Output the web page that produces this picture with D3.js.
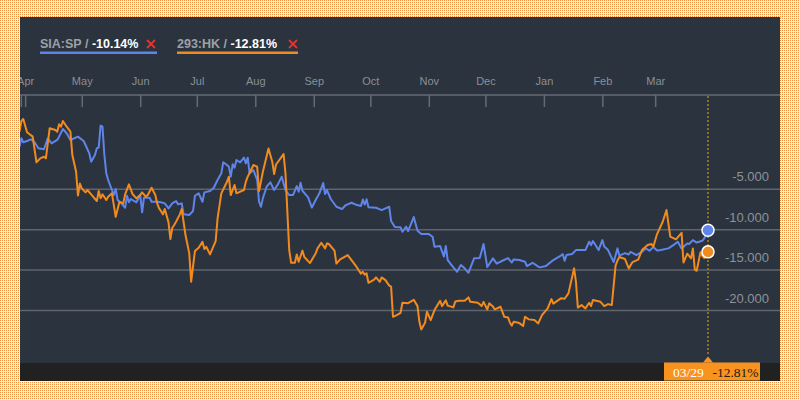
<!DOCTYPE html>
<html><head><meta charset="utf-8">
<script src="https://cdn.jsdelivr.net/npm/d3@7"></script>
<style>html,body{margin:0;padding:0;background:#fff;} svg{display:block}</style>
</head><body><svg id="c" width="800" height="400"></svg>
<script>
const siaDates=["2018-03-29","2018-03-30","2018-03-31","2018-04-02","2018-04-04","2018-04-06","2018-04-08","2018-04-11","2018-04-13","2018-04-15","2018-04-18","2018-04-19","2018-04-21","2018-04-23","2018-04-25","2018-04-29","2018-05-02","2018-05-03","2018-05-05","2018-05-06","2018-05-08","2018-05-09","2018-05-10","2018-05-11","2018-05-12","2018-05-13","2018-05-14","2018-05-15","2018-05-17","2018-05-18","2018-05-19","2018-05-20","2018-05-21","2018-05-22","2018-05-24","2018-05-25","2018-05-26","2018-05-27","2018-05-30","2018-06-01","2018-06-02","2018-06-03","2018-06-06","2018-06-07","2018-06-10","2018-06-12","2018-06-14","2018-06-16","2018-06-18","2018-06-20","2018-06-21","2018-06-23","2018-06-24","2018-06-27","2018-06-29","2018-06-30","2018-07-02","2018-07-04","2018-07-05","2018-07-08","2018-07-10","2018-07-12","2018-07-14","2018-07-15","2018-07-17","2018-07-18","2018-07-19","2018-07-20","2018-07-21","2018-07-22","2018-07-24","2018-07-26","2018-07-27","2018-07-28","2018-07-29","2018-07-31","2018-08-02","2018-08-03","2018-08-04","2018-08-05","2018-08-07","2018-08-09","2018-08-11","2018-08-13","2018-08-15","2018-08-17","2018-08-19","2018-08-21","2018-08-23","2018-08-24","2018-08-25","2018-08-26","2018-08-29","2018-08-31","2018-09-02","2018-09-04","2018-09-06","2018-09-07","2018-09-08","2018-09-10","2018-09-13","2018-09-16","2018-09-18","2018-09-21","2018-09-24","2018-09-26","2018-09-27","2018-09-28","2018-09-29","2018-09-30","2018-10-04","2018-10-07","2018-10-09","2018-10-11","2018-10-12","2018-10-14","2018-10-17","2018-10-18","2018-10-20","2018-10-21","2018-10-24","2018-10-26","2018-10-28","2018-11-01","2018-11-03","2018-11-04","2018-11-07","2018-11-09","2018-11-10","2018-11-11","2018-11-14","2018-11-16","2018-11-18","2018-11-20","2018-11-22","2018-11-25","2018-11-28","2018-11-30","2018-12-02","2018-12-05","2018-12-07","2018-12-10","2018-12-13","2018-12-15","2018-12-16","2018-12-19","2018-12-22","2018-12-23","2018-12-26","2018-12-29","2018-12-30","2019-01-02","2019-01-06","2019-01-10","2019-01-11","2019-01-12","2019-01-13","2019-01-16","2019-01-18","2019-01-23","2019-01-25","2019-01-26","2019-01-27","2019-01-30","2019-02-01","2019-02-02","2019-02-04","2019-02-07","2019-02-09","2019-02-10","2019-02-13","2019-02-15","2019-02-16","2019-02-19","2019-02-22","2019-02-24","2019-02-26","2019-02-28","2019-03-02","2019-03-04","2019-03-08","2019-03-11","2019-03-13","2019-03-15","2019-03-18","2019-03-19","2019-03-21","2019-03-23","2019-03-26","2019-03-27","2019-03-29"];
const siaValues=[0.20,1.24,0.74,0.90,1.11,0.74,0.00,-0.12,1.24,0.62,1.03,1.44,2.39,1.86,1.03,1.44,0.90,0.41,-0.62,-1.66,-0.83,0.00,0.12,2.80,2.67,-0.83,-3.09,-3.92,-5.16,-5.78,-5.04,-6.40,-6.61,-6.81,-7.35,-5.87,-6.68,-6.27,-6.68,-5.78,-7.92,-6.11,-6.11,-6.61,-6.61,-6.68,-6.81,-7.43,-6.81,-6.52,-6.93,-6.81,-8.17,-8.25,-7.76,-5.87,-5.57,-6.61,-5.45,-5.28,-4.88,-3.92,-3.09,-1.73,-2.07,-2.28,-3.51,-1.98,-2.40,-1.45,-1.73,-1.16,-1.86,-1.16,-3.09,-2.69,-3.92,-6.61,-7.23,-6.19,-4.75,-4.21,-5.16,-4.46,-3.51,-5.16,-5.78,-5.78,-4.67,-5.37,-4.26,-5.25,-6.06,-7.33,-6.40,-5.57,-4.29,-5.66,-5.16,-6.27,-7.23,-7.51,-7.02,-6.73,-7.02,-7.14,-6.34,-6.96,-6.31,-7.30,-7.35,-7.64,-7.43,-7.23,-9.00,-9.74,-9.78,-10.32,-9.68,-10.24,-8.50,-10.20,-10.61,-10.61,-10.94,-12.18,-12.09,-13.39,-12.09,-13.82,-14.73,-15.27,-14.44,-14.85,-15.40,-13.61,-13.58,-11.84,-14.69,-13.61,-14.26,-13.91,-13.58,-14.13,-13.74,-13.82,-14.03,-14.57,-14.16,-14.63,-14.73,-14.57,-13.82,-13.27,-13.08,-13.91,-13.21,-13.08,-12.59,-12.59,-11.56,-11.97,-11.47,-12.59,-11.35,-12.15,-12.59,-14.07,-12.38,-13.27,-12.96,-13.14,-12.80,-13.21,-12.80,-12.38,-12.67,-12.22,-12.65,-12.59,-12.38,-11.91,-11.56,-12.38,-11.78,-11.84,-11.35,-11.66,-11.44,-11.14,-10.14];
const hkDates=["2018-03-29","2018-03-30","2018-03-31","2018-04-02","2018-04-05","2018-04-07","2018-04-09","2018-04-11","2018-04-12","2018-04-14","2018-04-17","2018-04-18","2018-04-19","2018-04-20","2018-04-21","2018-04-23","2018-04-25","2018-04-26","2018-04-28","2018-04-29","2018-04-30","2018-05-01","2018-05-03","2018-05-04","2018-05-06","2018-05-09","2018-05-10","2018-05-11","2018-05-12","2018-05-14","2018-05-15","2018-05-17","2018-05-18","2018-05-19","2018-05-21","2018-05-23","2018-05-24","2018-05-26","2018-05-28","2018-05-30","2018-06-01","2018-06-02","2018-06-04","2018-06-05","2018-06-07","2018-06-09","2018-06-10","2018-06-11","2018-06-12","2018-06-13","2018-06-14","2018-06-16","2018-06-17","2018-06-18","2018-06-19","2018-06-20","2018-06-22","2018-06-23","2018-06-25","2018-06-27","2018-06-28","2018-06-30","2018-07-02","2018-07-04","2018-07-05","2018-07-06","2018-07-08","2018-07-11","2018-07-12","2018-07-14","2018-07-17","2018-07-18","2018-07-19","2018-07-21","2018-07-22","2018-07-26","2018-07-27","2018-07-28","2018-07-30","2018-07-31","2018-08-02","2018-08-03","2018-08-05","2018-08-08","2018-08-10","2018-08-11","2018-08-12","2018-08-16","2018-08-17","2018-08-19","2018-08-20","2018-08-22","2018-08-23","2018-08-24","2018-08-26","2018-08-27","2018-08-30","2018-09-02","2018-09-03","2018-09-05","2018-09-07","2018-09-08","2018-09-09","2018-09-12","2018-09-13","2018-09-15","2018-09-19","2018-09-23","2018-09-26","2018-09-27","2018-09-28","2018-09-29","2018-09-30","2018-10-03","2018-10-04","2018-10-06","2018-10-07","2018-10-09","2018-10-11","2018-10-12","2018-10-13","2018-10-15","2018-10-17","2018-10-18","2018-10-21","2018-10-24","2018-10-26","2018-10-27","2018-10-28","2018-10-30","2018-10-31","2018-11-02","2018-11-04","2018-11-07","2018-11-08","2018-11-10","2018-11-11","2018-11-14","2018-11-15","2018-11-17","2018-11-20","2018-11-22","2018-11-23","2018-11-27","2018-11-29","2018-11-30","2018-12-02","2018-12-03","2018-12-05","2018-12-06","2018-12-09","2018-12-11","2018-12-13","2018-12-14","2018-12-15","2018-12-16","2018-12-19","2018-12-21","2018-12-22","2018-12-24","2018-12-27","2018-12-29","2018-12-31","2019-01-03","2019-01-05","2019-01-06","2019-01-10","2019-01-12","2019-01-14","2019-01-17","2019-01-18","2019-01-19","2019-01-21","2019-01-23","2019-01-25","2019-01-26","2019-01-27","2019-01-31","2019-02-02","2019-02-04","2019-02-06","2019-02-08","2019-02-09","2019-02-10","2019-02-13","2019-02-15","2019-02-17","2019-02-20","2019-02-22","2019-02-25","2019-02-27","2019-02-28","2019-03-02","2019-03-05","2019-03-07","2019-03-09","2019-03-12","2019-03-15","2019-03-16","2019-03-18","2019-03-20","2019-03-21","2019-03-22","2019-03-23","2019-03-25","2019-03-26","2019-03-27","2019-03-29"];
const hkValues=[2.05,3.38,3.63,1.98,1.44,-1.73,-1.24,-1.04,-1.24,2.48,2.26,2.05,2.97,2.67,3.38,2.67,2.05,-0.83,-2.90,-5.84,-4.36,-4.95,-5.45,-5.16,-5.69,-6.52,-5.28,-6.19,-5.69,-6.40,-5.99,-5.57,-7.02,-8.47,-6.61,-6.81,-5.69,-4.46,-5.69,-6.19,-5.78,-5.45,-5.99,-5.78,-4.88,-5.78,-6.81,-7.43,-7.76,-8.17,-7.51,-9.16,-11.23,-9.83,-9.49,-9.08,-8.17,-7.51,-10.73,-13.00,-16.51,-12.71,-12.30,-11.56,-12.46,-12.18,-13.12,-11.47,-8.66,-5.57,-4.13,-3.51,-5.78,-4.54,-5.57,-5.16,-4.13,-3.51,-2.56,-2.07,-2.28,-5.28,-2.93,-0.02,-1.66,-3.18,-2.00,-0.71,-3.09,-12.59,-14.16,-14.16,-13.14,-14.03,-12.65,-13.45,-14.20,-13.00,-12.38,-11.68,-12.38,-11.76,-11.84,-12.65,-14.26,-13.74,-13.21,-14.44,-15.50,-15.27,-15.62,-15.47,-16.63,-16.24,-15.97,-16.51,-15.97,-16.30,-16.98,-17.10,-20.84,-20.63,-20.35,-19.11,-19.15,-18.74,-19.52,-21.46,-22.40,-21.58,-20.22,-21.25,-20.01,-18.86,-19.52,-18.81,-19.46,-19.68,-18.96,-18.86,-18.86,-18.44,-18.99,-19.11,-19.52,-18.99,-19.93,-19.18,-19.58,-19.93,-19.60,-20.84,-20.92,-21.58,-21.93,-21.46,-21.62,-21.99,-20.84,-21.16,-21.25,-21.66,-20.63,-19.80,-18.65,-19.21,-18.56,-18.61,-17.95,-14.85,-16.51,-19.70,-19.39,-19.80,-19.11,-19.52,-18.77,-18.99,-19.52,-19.27,-19.39,-14.50,-13.89,-13.45,-13.70,-14.85,-14.07,-13.76,-12.59,-11.97,-11.84,-12.18,-10.61,-9.08,-7.64,-10.92,-11.26,-10.45,-14.13,-13.04,-13.61,-12.38,-15.00,-15.15,-12.87,-13.33,-13.58,-12.81];
const seriesNames=["SIA:SP","293:HK"];
const seriesChanges=["-10.14%","-12.81%"];
const yTickValues=[-5,-10,-15,-20];
const badgeDate="03/29";

const colors=["#5f84ea","#f28b1f"];
const parse=d3.timeParse("%Y-%m-%d");
const sia=siaDates.map((d,i)=>({date:parse(d),value:siaValues[i]}));
const hk=hkDates.map((d,i)=>({date:parse(d),value:hkValues[i]}));
const series=[sia,hk];

const svg=d3.select("#c");
const defs=svg.append("defs");
const pat=defs.append("pattern").attr("id","dots").attr("width",2).attr("height",2).attr("patternUnits","userSpaceOnUse");
pat.append("rect").attr("width",2).attr("height",2).attr("fill","#fdf6ef");
pat.append("rect").attr("width",1).attr("height",1).attr("fill","#e98a3c");
svg.append("rect").attr("width",800).attr("height",400).attr("fill","url(#dots)");
defs.append("clipPath").attr("id","panel").append("rect").attr("x",20).attr("y",17).attr("width",760).attr("height",364);

svg.append("rect").attr("x",20).attr("y",17).attr("width",760).attr("height",364).attr("fill","#2b333e");
svg.append("rect").attr("x",20).attr("y",363).attr("width",760).attr("height",18).attr("fill","#212121");

const x=d3.scaleTime().domain([parse("2018-03-29"),parse("2019-03-29")]).range([19.5,708]);
const y=d3.scaleLinear().domain([-20,0]).range([310,148.3]);

const clip=svg.append("g").attr("clip-path","url(#panel)");

// legend
const legX=[40,177], legW=[117,121], crossX=[151,293];
seriesNames.forEach((n,i)=>{
  const t=clip.append("text").attr("x",legX[i]).attr("y",48)
    .style("font-family","'Liberation Sans',Arial,sans-serif").style("font-weight","bold").style("font-size","12.5px");
  t.append("tspan").attr("fill","#9ca1a7").text(n+" / ");
  t.append("tspan").attr("fill","#ffffff").text(seriesChanges[i]);
  clip.append("rect").attr("x",legX[i]).attr("y",51.5).attr("width",legW[i]).attr("height",2.5).attr("fill",colors[i]);
  const cx=crossX[i];
  clip.append("path").attr("d",`M${cx-4},${40}L${cx+4},${48}M${cx+4},${40}L${cx-4},${48}`)
    .attr("stroke","#e8322c").attr("stroke-width",1.8);
});

// x axis
clip.append("line").attr("x1",20).attr("x2",780).attr("y1",95).attr("y2",95).attr("stroke","#666b73").attr("stroke-width",1.5);
const gx=clip.append("g").attr("transform","translate(0,95)")
  .call(d3.axisBottom(x).ticks(d3.timeMonth.every(1)).tickFormat(d3.timeFormat("%b")).tickSize(12).tickSizeOuter(0));
gx.select(".domain").remove();
gx.selectAll(".tick line").attr("stroke","#666b73").attr("stroke-width",1.5);
gx.selectAll(".tick text").attr("y",-10).attr("dy",0).attr("fill","#8a8f96")
  .style("font-family","'Liberation Sans',Arial,sans-serif").style("font-size","11px");
clip.append("line").attr("x1",x(parse("2018-03-30"))).attr("x2",x(parse("2018-03-30"))).attr("y1",95).attr("y2",107)
  .attr("stroke","#666b73").attr("stroke-width",1.5);

// y grid
const gy=clip.append("g").attr("transform","translate(780,0)")
  .call(d3.axisLeft(y).tickValues(yTickValues).tickSize(760).tickFormat(d=>d.toFixed(3)));
gy.select(".domain").remove();
gy.selectAll(".tick line").attr("stroke","#60656d").attr("stroke-width",1.5);
gy.selectAll(".tick text").attr("x",-11).attr("y",-8).attr("dy",0).attr("text-anchor","end").attr("fill","#8d9299")
  .style("font-family","'Liberation Sans',Arial,sans-serif").style("font-size","13px");

// lines
const line=d3.line().x(d=>x(d.date)).y(d=>y(d.value));
series.forEach((s,i)=>{
  clip.append("path").datum(s).attr("d",line).attr("fill","none").attr("stroke",colors[i])
    .attr("stroke-width",2).attr("stroke-linejoin","round");
});

// cursor
const lx=x(sia[sia.length-1].date);
clip.append("line").attr("x1",lx).attr("x2",lx).attr("y1",96).attr("y2",356)
  .attr("stroke","#a9821f").attr("stroke-width",1.5).attr("stroke-dasharray","2,2");
series.forEach((s,i)=>{
  const last=s[s.length-1];
  clip.append("circle").attr("cx",x(last.date)).attr("cy",y(last.value)).attr("r",6)
    .attr("fill",colors[i]).attr("stroke","#fff").attr("stroke-width",1.5);
});

// badge
clip.append("rect").attr("x",664).attr("y",362.5).attr("width",96).attr("height",18).attr("fill","#f7931e");
clip.append("path").attr("d",`M${lx-5},362.5L${lx},356.5L${lx+5},362.5Z`).attr("fill","#f7931e");
const bt=clip.append("text").attr("y",376.5).style("font-family","'Liberation Serif','Times New Roman',serif").style("font-size","13.5px");
bt.append("tspan").attr("x",673).attr("fill","#ffffff").text(badgeDate);
bt.append("tspan").attr("x",712.5).attr("fill","#1b1b1b").text(seriesChanges[1]);
</script></body></html>
